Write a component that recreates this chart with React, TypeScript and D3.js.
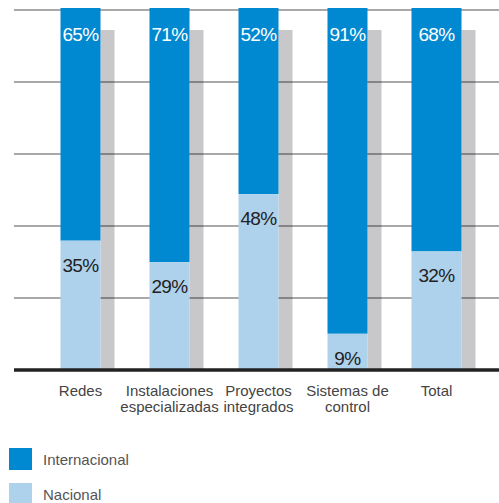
import React from "react";
import * as d3 from "d3";

const categories: string[][] = [
  ["Redes"],
  ["Instalaciones", "especializadas"],
  ["Proyectos", "integrados"],
  ["Sistemas de", "control"],
  ["Total"],
];
const internacional = [65, 71, 52, 91, 68];
const nacional = [35, 29, 48, 9, 32];
const gridTicks = [0, 20, 40, 60, 80, 100];
const legendItems = ["Internacional", "Nacional"];

const W = 499;
const H = 503;
const BLUE = "#0088d1";
const LIGHT = "#aed1ec";
const GRAY = "#c8c8ca";
const FONT = "'Liberation Sans', Arial, Helvetica, sans-serif";

export default function App() {
  const keys = categories.map((c) => c.join(" "));
  const x = d3.scalePoint<string>().domain(keys).range([80.5, 436.5]);
  const yBar = d3.scaleLinear().domain([0, 100]).range([366, 8]);
  const yGrid = d3.scaleLinear().domain([0, 100]).range([370, 10]);
  const color = d3.scaleOrdinal<string, string>().domain(legendItems).range([BLUE, LIGHT]);
  const barW = (i: number) => (i === keys.length - 1 ? 50 : 40);
  const shadowW = 14;
  const baseY = yGrid(0);

  return (
    <svg
      width={W}
      height={H}
      style={{ position: "absolute", left: 0, top: 0, fontFamily: FONT }}
    >
      {/* shadow bars */}
      {keys.map((k, i) => {
        const cx = x(k)!;
        const w = barW(i);
        return (
          <rect
            key={"s" + k}
            x={cx + w / 2}
            y={yBar(100) + 22}
            width={shadowW}
            height={baseY - (yBar(100) + 22)}
            fill={GRAY}
          />
        );
      })}
      {/* gridlines */}
      {gridTicks.slice(1).map((t) => (
        <line
          key={"g" + t}
          x1={14}
          x2={W}
          y1={yGrid(t)}
          y2={yGrid(t)}
          stroke="#000"
          strokeOpacity={0.45}
          strokeWidth={1.6}
        />
      ))}
      {/* stacked bars */}
      {keys.map((k, i) => {
        const cx = x(k)!;
        const w = barW(i);
        const top = yBar(100);
        const split = yBar(nacional[i]);
        return (
          <g key={"b" + k}>
            <rect x={cx - w / 2} y={top} width={w} height={split - top} fill={color("Internacional")} />
            <rect x={cx - w / 2} y={split} width={w} height={baseY - split} fill={color("Nacional")} />
            <text
              x={cx}
              y={top + 33}
              textAnchor="middle"
              fontSize={19}
              fill="#fff"
              letterSpacing={-0.6}
            >
              {internacional[i]}%
            </text>
            <text
              x={cx}
              y={split + 31}
              textAnchor="middle"
              fontSize={19}
              fill="#222"
              letterSpacing={-0.6}
            >
              {nacional[i]}%
            </text>
          </g>
        );
      })}
      {/* baseline */}
      <line x1={14} x2={W} y1={baseY} y2={baseY} stroke="#222" strokeWidth={3.5} />
      {/* category labels */}
      {categories.map((lines, i) => (
        <text
          key={"c" + i}
          x={x(keys[i])!}
          y={396}
          textAnchor="middle"
          fontSize={15}
          fill="#444"
        >
          {lines.map((ln, j) => (
            <tspan key={j} x={x(keys[i])!} dy={j === 0 ? 0 : 16}>
              {ln}
            </tspan>
          ))}
        </text>
      ))}
      {/* legend */}
      {legendItems.map((name, i) => (
        <g key={"l" + name} transform={`translate(9, ${448 + i * 35})`}>
          <rect x={0} y={0} width={23} height={22} fill={color(name)} />
          <text x={34} y={17} fontSize={15} fill="#555">
            {name}
          </text>
        </g>
      ))}
    </svg>
  );
}
